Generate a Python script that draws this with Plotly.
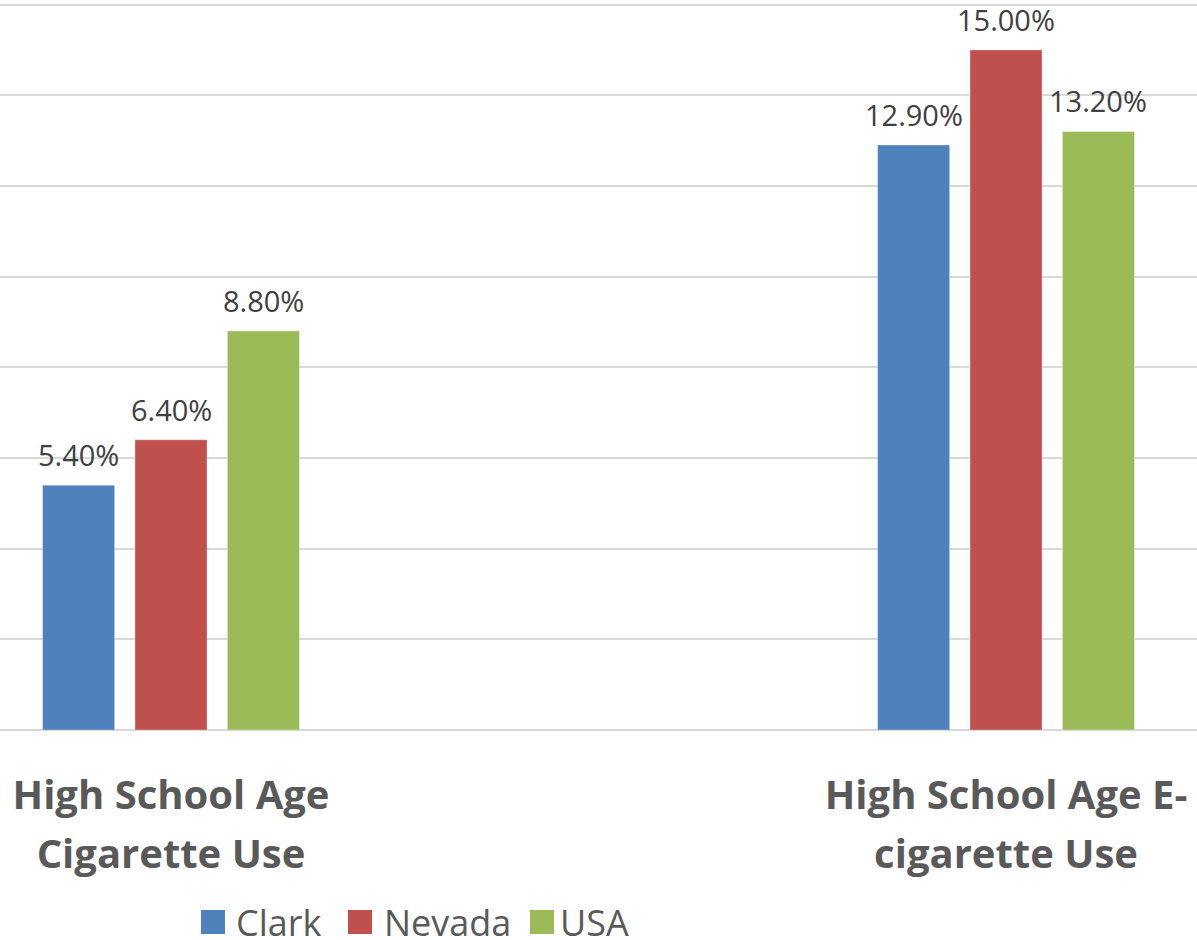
import plotly.graph_objects as go

# ---- data ----
category_lines = [["High School Age", "Cigarette Use"], ["High School Age E-", "cigarette Use"]]
series_names = ["Clark", "Nevada", "USA"]
clark = [5.4, 12.9]
nevada = [6.4, 15.0]
usa = [8.8, 13.2]
series_values = [clark, nevada, usa]
y_ticks = [0, 2, 4, 6, 8, 10, 12, 14, 16]

# ---- style ----
colors = ["#4F81BD", "#C0504D", "#9BBB59"]
W, H = 1197, 940
ML, MR, MT, MB = 0, 0, 0, 210
PW, PH = W - ML - MR, H - MT - MB
BARGAP = 0.668
BARGROUPGAP = 0.22
XRANGE = [-0.2048, 1.2287]
YRANGE = [0, 16.1]
FONT = "Open Sans"
CAT_GLYPH = 40   # visible glyph size of category labels
CAT_LINE = 45    # base size that sets the line spacing

categories = ["<br>".join(f'<span style="font-size:{CAT_GLYPH}px">{t}</span>' for t in lines)
              for lines in category_lines]

fig = go.Figure()
for name, vals, col in zip(series_names, series_values, colors):
    fig.add_trace(go.Bar(
        x=categories, y=vals, name=name,
        marker=dict(color=col, line=dict(color="rgba(255,255,255,0.35)", width=1)),
        showlegend=False,
    ))

# data labels above bars
slot = (1 - BARGAP) / len(series_names)
annotations = []
for j, vals in enumerate(series_values):
    for i, v in enumerate(vals):
        annotations.append(dict(
            x=i + (j - (len(series_names) - 1) / 2) * slot, y=v,
            xref="x", yref="y", text=f"{v:.2f}%", showarrow=False,
            yanchor="bottom", yshift=9,
            font=dict(family=FONT, size=29, color="#404040"),
        ))

# manual legend (large square swatches)
def px_x(px):
    return (px - ML) / PW

def px_y(py):
    return (MT + PH - py) / PH

sq_left = [201, 348, 530]
txt_left = [237, 385, 561]
SQ = 24
LEG_Y = 922
shapes = []
for name, col, sx, tx in zip(series_names, colors, sq_left, txt_left):
    shapes.append(dict(type="rect", xref="paper", yref="paper",
                       x0=px_x(sx), x1=px_x(sx + SQ),
                       y0=px_y(LEG_Y + SQ / 2), y1=px_y(LEG_Y - SQ / 2),
                       fillcolor=col, line=dict(width=0)))
    annotations.append(dict(x=px_x(tx - 3), y=px_y(LEG_Y), xref="paper", yref="paper",
                            text=name, showarrow=False, xanchor="left", yanchor="middle",
                            font=dict(family=FONT, size=36, color="#595959")))

fig.update_layout(
    width=W, height=H,
    margin=dict(l=ML, r=MR, t=MT, b=MB, pad=0),
    paper_bgcolor="white", plot_bgcolor="white",
    barmode="group", bargap=BARGAP, bargroupgap=BARGROUPGAP,
    showlegend=False,
    annotations=annotations, shapes=shapes,
    xaxis=dict(
        type="category", range=XRANGE, showgrid=False, zeroline=False,
        showline=False, ticks="", ticklabelstandoff=33,
        tickfont=dict(family=FONT, size=CAT_LINE, color="#595959", weight="bold"),
    ),
    yaxis=dict(
        range=YRANGE, tickvals=y_ticks, showticklabels=False,
        showgrid=True, gridcolor="#D9D9D9", gridwidth=2,
        zeroline=True, zerolinecolor="#D9D9D9", zerolinewidth=2,
        showline=False, ticks="",
    ),
)

fig.write_html("out.html")
